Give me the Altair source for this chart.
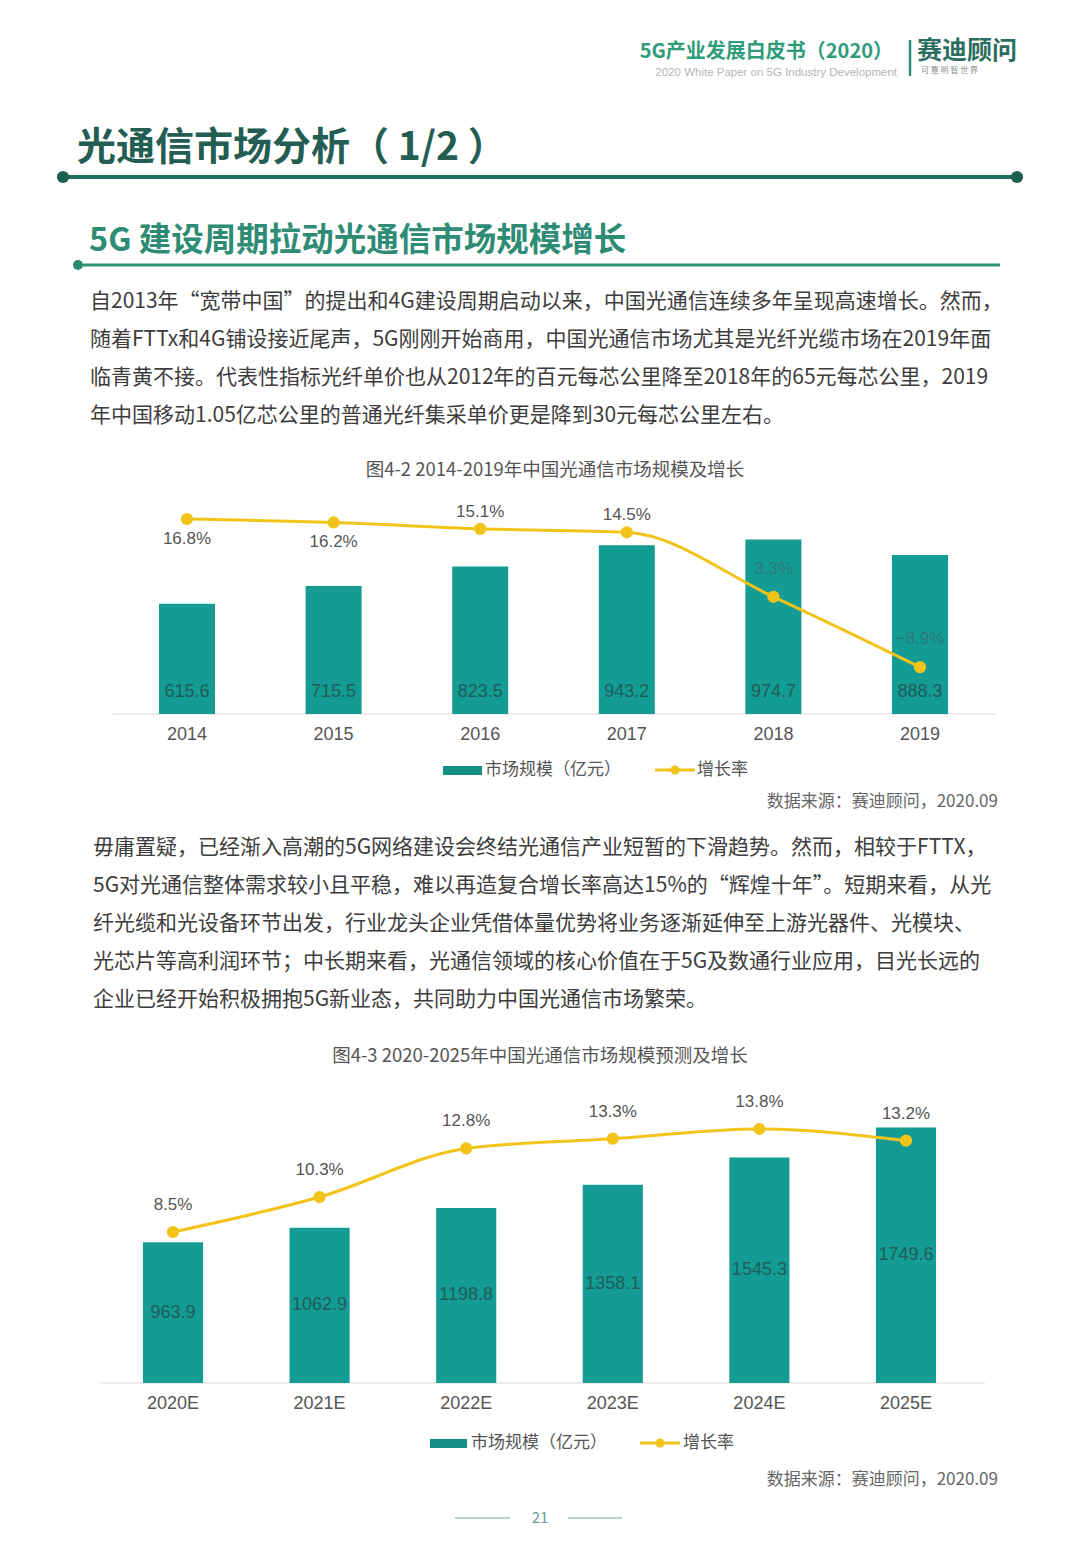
import altair as alt
import pandas as pd

FONT = "Noto Sans CJK SC"
NUMFONT = "Liberation Sans Narrow, Liberation Sans, Noto Sans CJK SC"

# ---------------- data ----------------
years1 = ["2014", "2015", "2016", "2017", "2018", "2019"]
size1 = [615.6, 715.5, 823.5, 943.2, 974.7, 888.3]
growth1 = [16.8, 16.2, 15.1, 14.5, 3.3, -8.9]

years2 = ["2020E", "2021E", "2022E", "2023E", "2024E", "2025E"]
size2 = [963.9, 1062.9, 1198.8, 1358.1, 1545.3, 1749.6]
growth2 = [8.5, 10.3, 12.8, 13.3, 13.8, 13.2]

para1 = [
    "自2013年“宽带中国”的提出和4G建设周期启动以来，中国光通信连续多年呈现高速增长。然而，",
    "随着FTTx和4G铺设接近尾声，5G刚刚开始商用，中国光通信市场尤其是光纤光缆市场在2019年面",
    "临青黄不接。代表性指标光纤单价也从2012年的百元每芯公里降至2018年的65元每芯公里，2019",
    "年中国移动1.05亿芯公里的普通光纤集采单价更是降到30元每芯公里左右。",
]
para2 = [
    "毋庸置疑，已经渐入高潮的5G网络建设会终结光通信产业短暂的下滑趋势。然而，相较于FTTX，",
    "5G对光通信整体需求较小且平稳，难以再造复合增长率高达15%的“辉煌十年”。短期来看，从光",
    "纤光缆和光设备环节出发，行业龙头企业凭借体量优势将业务逐渐延伸至上游光器件、光模块、",
    "光芯片等高利润环节；中长期来看，光通信领域的核心价值在于5G及数通行业应用，目光长远的",
    "企业已经开始积极拥抱5G新业态，共同助力中国光通信市场繁荣。",
]

df1 = pd.DataFrame({"year": years1, "size": size1, "growth": growth1})
df2 = pd.DataFrame({"year": years2, "size": size2, "growth": growth2})

TEAL = "#139b94"
GOLD = "#f2c318"
LABEL_DARK = "#1f5d59"
GRAY = "#555555"

O = 8  # page margin offset


def txt(s, x, y, size, color, align="left", weight="normal", font=FONT):
    return alt.Chart(pd.DataFrame({"t": [s]})).mark_text(
        align=align, baseline="middle", fontSize=size, color=color,
        font=font, fontWeight=weight
    ).encode(x=alt.value(x - O), y=alt.value(y - O), text="t:N")


def hline(x1, x2, y, color, width):
    return alt.Chart(pd.DataFrame({"a": [0]})).mark_rule(
        color=color, strokeWidth=width
    ).encode(x=alt.value(x1 - O), x2=alt.value(x2 - O), y=alt.value(y - O))


def vline(x, y1, y2, color, width):
    return alt.Chart(pd.DataFrame({"a": [0]})).mark_rule(
        color=color, strokeWidth=width
    ).encode(x=alt.value(x - O), y=alt.value(y1 - O), y2=alt.value(y2 - O))


def dot(x, y, color, size):
    return alt.Chart(pd.DataFrame({"a": [0]})).mark_point(
        filled=True, shape="circle", size=size, color=color, opacity=1
    ).encode(x=alt.value(x - O), y=alt.value(y - O))


def rect(x1, x2, y1, y2, color):
    return alt.Chart(pd.DataFrame({"a": [0]})).mark_rect(color=color).encode(
        x=alt.value(x1 - O), x2=alt.value(x2 - O),
        y=alt.value(y1 - O), y2=alt.value(y2 - O))


layers = []

# ---------------- header ----------------
layers += [
    txt("5G产业发展白皮书（2020）", 893, 52, 20, "#2f9c7a", align="right", weight="bold"),
    txt("2020 White Paper on 5G Industry Development", 897, 73, 11.5, "#b5b5b5",
        align="right", font="Liberation Sans"),
    vline(910, 40, 76, "#2b8f78", 2.5),
    txt("赛迪顾问", 917, 51, 25, "#2b6e60", weight="bold"),
    txt("可 靠 明 智 世 界", 921, 71, 8, "#8a8a8a"),
    txt("光通信市场分析（ 1/2 ）", 77, 148, 39, "#245e52", weight="bold"),
    hline(63, 1017, 177, "#1d6e5b", 4),
    dot(63, 177, "#1d5e50", 150),
    dot(1017, 177, "#1d5e50", 150),
    txt("5G 建设周期拉动光通信市场规模增长", 89, 241, 32.5, "#2e8b74", weight="bold"),
    hline(78, 1000, 265, "#2a9474", 3),
    dot(78, 265, "#2a8a70", 100),
]
for i, line in enumerate(para1):
    layers.append(txt(line, 90, 302 + 38 * i, 21, "#3d3d3d"))
for i, line in enumerate(para2):
    layers.append(txt(line, 93, 848 + 38 * i, 21, "#3d3d3d"))

# ---------------- chart 1 ----------------
xs1 = lambda: alt.Scale(type="band", domain=years1, range=[113.7 - O, 993.3 - O],
                        paddingInner=0.618, paddingOuter=0.309)
ys1 = lambda: alt.Scale(domain=[0, 1200], range=[714 - O, 714 - O - 214.8], nice=False, zero=True)
gs1 = lambda: alt.Scale(domain=[-10, 20], range=[673.4 - O, 500.6 - O], nice=False, zero=False)

base1 = alt.Chart(df1)
layers += [
    txt("图4-2 2014-2019年中国光通信市场规模及增长", 555, 470, 18.5, GRAY, align="center"),
    hline(113, 995, 714, "#d9d9d9", 1.2),
    base1.mark_bar(color=TEAL).encode(
        x=alt.X("year:N", scale=xs1(), axis=None),
        y=alt.Y("size:Q", scale=ys1(), axis=None)),
    base1.mark_text(baseline="middle", fontSize=18, color=LABEL_DARK, font=NUMFONT).encode(
        x=alt.X("year:N", scale=xs1(), axis=None),
        y=alt.value(692 - O),
        text=alt.Text("size:Q", format=".1f")),
    base1.mark_text(baseline="middle", fontSize=18, color=GRAY, font=NUMFONT).encode(
        x=alt.X("year:N", scale=xs1(), axis=None),
        y=alt.value(735 - O),
        text="year:N"),
    base1.mark_line(color=GOLD, strokeWidth=3, interpolate="monotone").encode(
        x=alt.X("year:N", scale=xs1(), axis=None),
        y=alt.Y("growth:Q", scale=gs1(), axis=None)),
    base1.mark_point(filled=True, shape="circle", size=150, color=GOLD, opacity=1).encode(
        x=alt.X("year:N", scale=xs1(), axis=None),
        y=alt.Y("growth:Q", scale=gs1(), axis=None)),
]
for yrs, dy, col in [(["2014", "2015"], 20, GRAY), (["2016", "2017"], -17, GRAY),
                     (["2018", "2019"], -28, "#2a7a75")]:
    layers.append(
        base1.transform_filter(alt.FieldOneOfPredicate(field="year", oneOf=yrs))
        .transform_calculate(lab="format(datum.growth, '.1f') + '%'")
        .mark_text(baseline="middle", fontSize=17, color=col, dy=dy, font=NUMFONT)
        .encode(x=alt.X("year:N", scale=xs1(), axis=None),
                y=alt.Y("growth:Q", scale=gs1(), axis=None),
                text="lab:N"))

layers += [
    rect(443, 482, 766, 775, "#138f86"),
    txt("市场规模（亿元）", 485, 770, 17, GRAY),
    hline(655, 695, 770, GOLD, 3),
    dot(675, 770, GOLD, 80),
    txt("增长率", 697, 770, 17, GRAY),
    txt("数据来源：赛迪顾问，2020.09", 998, 802, 17, "#666666", align="right"),
]

# ---------------- chart 2 ----------------
xs2 = lambda: alt.Scale(type="band", domain=years2, range=[99.7 - O, 979.3 - O],
                        paddingInner=0.59, paddingOuter=0.295)
ys2 = lambda: alt.Scale(domain=[0, 2000], range=[1383 - O, 1383 - O - 292], nice=False, zero=True)
gs2 = lambda: alt.Scale(domain=[0, 15], range=[1397.2 - O, 1105.7 - O], nice=False, zero=True)

base2 = alt.Chart(df2)
layers += [
    txt("图4-3 2020-2025年中国光通信市场规模预测及增长", 540, 1056, 18.5, GRAY, align="center"),
    hline(100, 985, 1383, "#d9d9d9", 1.2),
    base2.mark_bar(color=TEAL).encode(
        x=alt.X("year:N", scale=xs2(), axis=None),
        y=alt.Y("size:Q", scale=ys2(), axis=None)),
    base2.transform_calculate(half="datum.size / 2").mark_text(
        baseline="middle", fontSize=18, color=LABEL_DARK, font=NUMFONT).encode(
        x=alt.X("year:N", scale=xs2(), axis=None),
        y=alt.Y("half:Q", scale=ys2(), axis=None),
        text=alt.Text("size:Q", format=".1f")),
    base2.mark_text(baseline="middle", fontSize=18, color=GRAY, font=NUMFONT).encode(
        x=alt.X("year:N", scale=xs2(), axis=None),
        y=alt.value(1404 - O),
        text="year:N"),
    base2.mark_line(color=GOLD, strokeWidth=3, interpolate="monotone").encode(
        x=alt.X("year:N", scale=xs2(), axis=None),
        y=alt.Y("growth:Q", scale=gs2(), axis=None)),
    base2.mark_point(filled=True, shape="circle", size=150, color=GOLD, opacity=1).encode(
        x=alt.X("year:N", scale=xs2(), axis=None),
        y=alt.Y("growth:Q", scale=gs2(), axis=None)),
    base2.transform_calculate(lab="format(datum.growth, '.1f') + '%'").mark_text(
        baseline="middle", fontSize=17, color=GRAY, dy=-27, font=NUMFONT).encode(
        x=alt.X("year:N", scale=xs2(), axis=None),
        y=alt.Y("growth:Q", scale=gs2(), axis=None),
        text="lab:N"),
    rect(430, 467, 1439, 1448, "#138f86"),
    txt("市场规模（亿元）", 471, 1443, 17, GRAY),
    hline(640, 680, 1443, GOLD, 3),
    dot(660, 1443, GOLD, 80),
    txt("增长率", 683, 1443, 17, GRAY),
    txt("数据来源：赛迪顾问，2020.09", 998, 1480, 17, "#666666", align="right"),
]

# ---------------- footer ----------------
layers += [
    hline(455, 510, 1518, "#9cc7c0", 1.5),
    hline(568, 622, 1518, "#9cc7c0", 1.5),
    txt("21", 540, 1518, 15, "#6a9e97", align="center"),
]

chart = alt.layer(*layers).resolve_scale(
    x="independent", y="independent"
).properties(
    width=1064, height=1544, padding=0, autosize="none", background="white"
).configure_view(stroke=None)

chart.save("out.html", embed_options={"renderer": "svg", "actions": False})
